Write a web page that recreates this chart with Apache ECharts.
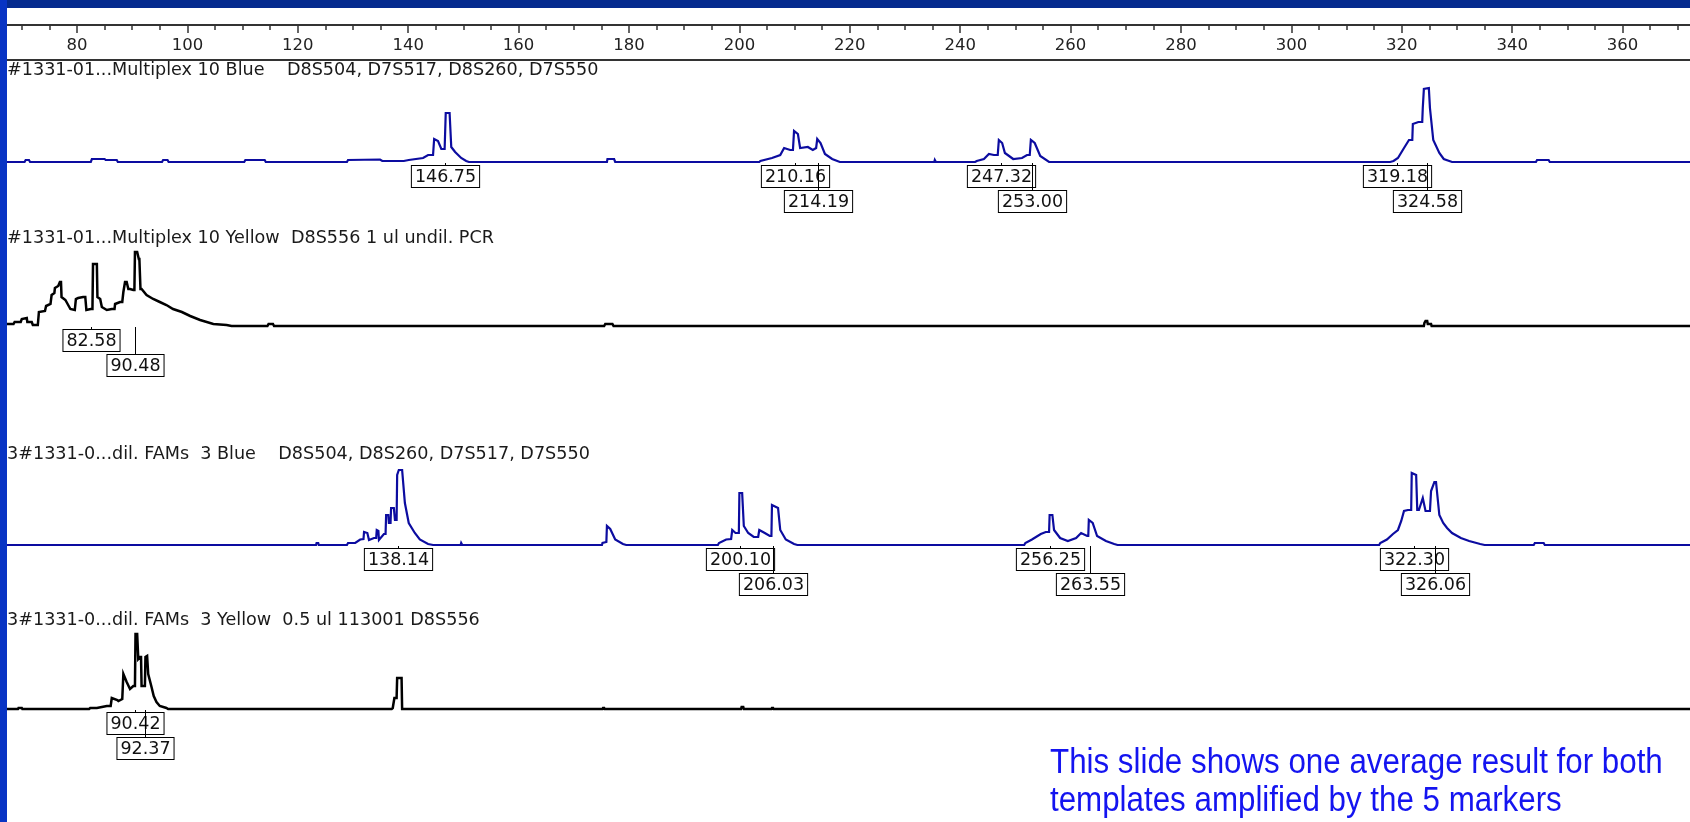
<!DOCTYPE html>
<html>
<head>
<meta charset="utf-8">
<script src="https://cdn.jsdelivr.net/npm/echarts@6/dist/echarts.min.js"></script>
<style>
html,body{margin:0;padding:0;background:#fff;}
#c{width:1690px;height:822px;}
</style>
</head>
<body>
<div id="c"></div>
<script>
// ---- data ----
const rulerMin = 60, rulerMax = 380, rulerStep = 20;

const panelTitles = [
  '#1331-01...Multiplex 10 Blue    D8S504, D7S517, D8S260, D7S550',
  '#1331-01...Multiplex 10 Yellow  D8S556 1 ul undil. PCR',
  '3#1331-0...dil. FAMs  3 Blue    D8S504, D8S260, D7S517, D7S550',
  '3#1331-0...dil. FAMs  3 Yellow  0.5 ul 113001 D8S556'
];

// trace 1: Multiplex 10 Blue  [size, height]
const trace1 = [[67,0],[70.5,0],[70.7,2],[71.3,2],[71.5,0],[82.5,0],[82.7,3],[85,3],[85.2,2],[87.2,2],[87.4,0],
 [95.4,0],[95.6,2],[96.4,2],[96.6,0],[110.3,0],[110.5,2],[114.0,2],[114.2,0],[128.9,0],[129.1,2],[134.9,2.5],[135.3,1],
 [139.2,1],[140.1,2],[142.7,4],[143.6,7],[144.5,7],[144.7,23],[145.4,21],[146.0,13],[146.6,13],[146.8,49],[147.5,49],
 [147.8,15],[148.5,10],[149.6,4],[150.5,1],[151.0,0],[176.0,0],[176.1,3],[177.3,3],[177.5,0],
 [203.6,0],[203.8,1],[205.9,4],[207.4,7],[208.1,14],[209.2,12],[209.7,12],[209.9,31],[210.6,28],[211.0,14],[212.4,15],
 [213.3,12],[213.9,14],[214.1,23],[214.7,19],[215.5,8],[216.8,3],[218.2,0],[235.3,0],[235.4,2],[235.6,0],
 [242.7,0],[243.0,1],[244.3,3],[245.2,8],[246.1,7],[246.8,7],[247.0,22],[247.6,19],[248.1,9],[249.6,3],[251.2,4],
 [252.1,7],[252.6,7],[252.8,22],[253.5,19],[254.5,6],[256.1,0],
 [317.9,0],[318.5,1],[319.3,4],[320.4,14],[321.3,22],[321.9,22],[322.0,38],[323.0,40],[323.7,40],[323.8,54],[324.0,73],
 [324.9,74],[325.1,54],[325.7,22],[326.8,9],[327.6,3],[329.1,0],[344.3,0],[344.5,2],[346.6,2],[346.8,0],[372.5,0]];

// trace 2: Multiplex 10 Yellow
const trace2 = [[67.0,2],[68.5,2],[68.7,4],[69.8,4],[70.0,7],[70.9,8],[71.0,4],[71.8,4],[72.0,1],[72.9,1],[73.1,14],
 [74.2,15],[74.4,20],[75.2,22],[75.4,31],[75.9,33],[76.0,38],[76.6,40],[76.9,44],[77.1,44],[77.2,29],[77.9,26],[78.1,24],
 [78.6,19],[78.8,17],[79.6,16],[79.8,27],[80.2,28],[81.1,29],[81.5,29],[81.7,16],[82.5,17],[82.8,17],[82.9,62],[83.6,62],
 [83.7,29],[84.2,27],[84.5,19],[85.4,16],[86.3,17],[86.8,17],[86.9,22],[87.8,24],[88.2,24],[88.4,34],[88.7,44],[89.0,44],
 [89.3,37],[89.6,37],[90.2,36],[90.4,36],[90.5,74],[90.9,74],[91.2,67],[91.3,67],[91.5,37],[91.7,37],[92.6,31],[93.8,27],
 [95.0,24],[96.2,21],[97.4,17],[99.0,14],[100.5,10],[102.3,6],[104.7,2],[107.1,1],[108,0],
 [114.5,0],[114.7,2],[115.5,2],[115.7,0],[175.5,0],[175.7,2],[177,2],[177.2,0],
 [324.0,0],[324.1,3],[324.3,5],[324.6,5],[324.7,2],[325.3,2],[325.4,0],[372.5,0]];

// trace 3: FAMs 3 Blue
const trace3 = [[67,0],[123.3,0],[123.4,2],[123.7,2],[123.8,0],[128.9,0],[129.1,2],[130.4,2],[131.3,5.5],[131.9,6],
 [132.0,13],[132.6,12],[132.9,5],[133.8,7],[134.2,7],[134.3,15],[134.6,14],[134.7,5],[135.6,11],[135.9,11],[136.0,30],
 [136.4,30],[136.5,22],[136.8,22],[136.9,37],[137.4,37],[137.6,25],[137.9,25],[138.0,70],[138.3,75],[138.9,75],[139.4,42],
 [140.1,22],[141.2,12],[142.1,5.5],[143.6,1],[144.5,0],[149.5,0],[149.6,2],[149.8,0],
 [175.1,0],[175.2,2],[175.9,3],[176.0,19],[176.6,16],[177.5,5.5],[178.9,1],[179.5,0],
 [196.1,0],[196.3,2],[197.6,5.5],[198.5,6],[198.7,15],[199.3,12],[199.9,12],[200.0,52],[200.5,52],[200.8,19],[201.6,12],
 [202.6,8],[203.4,8],[203.6,15],[204.6,12],[205.5,9],[205.8,9],[205.9,40],[207.0,37],[207.4,15],[208.4,5.5],[209.9,1],[210.5,0],
 [251.6,0],[251.8,2],[253.0,5.5],[254.6,11],[255.5,13],[256.1,13],[256.2,30],[256.7,30],[257.0,15],[258.1,7],[259.5,4],
 [261.0,7],[261.9,12],[263.0,9],[263.2,9],[263.3,25],[264.0,22],[264.8,9],[266.4,4],[267.9,1],[268.5,0],
 [315.9,0],[316.1,2],[317.3,5.5],[318.4,11],[319.3,15],[319.9,24],[320.4,34],[321.1,35],[321.7,35],[321.8,72],[322.6,70],
 [322.8,35],[323.1,35],[323.8,47],[324.3,34],[325.1,34],[325.3,54],[325.9,63],[326.2,63],[326.8,30],[327.5,22],[328.2,17],
 [329.1,12],[330.7,7],[332.2,4],[334.2,1],[335,0],[343.9,0],[344.1,2],[345.7,2],[345.9,0],[372.5,0]];

// trace 4: FAMs 3 Yellow
const trace4 = [[67,0],[69.3,0],[69.4,1],[70.0,1],[70.1,0],[82.2,0],[82.4,1],[83.6,1],[84.5,2],[85.4,3],[86.1,3],[86.3,11],
 [87.3,9],[87.5,8],[88.2,10],[88.4,35],[89.0,27],[89.6,20],[90.2,23],[90.5,23],[90.6,75],[90.9,75],[91.1,50],[91.4,52],
 [91.6,52],[91.7,23],[92.3,23],[92.4,52],[92.7,53],[92.9,35],[93.5,22],[93.9,13],[94.4,7],[95.0,3],[96.2,1],[96.5,0],
 [137.0,0],[137.2,1],[137.5,11],[137.9,11],[138.0,31],[138.8,31],[138.9,0],
 [175.2,0],[175.3,1],[175.5,1],[175.6,0],[200.3,0],[200.4,2],[200.7,2],[200.8,0],[205.8,0],[205.9,1],[206.1,1],[206.2,0],[372.5,0]];

// peak size labels and their stacking row
const peaks1 = [146.75, 210.16, 214.19, 247.32, 253.00, 319.18, 324.58];
const rows1  = [0, 0, 1, 0, 1, 0, 1];
const peaks2 = [82.58, 90.48];
const rows2  = [0, 1];
const peaks3 = [138.14, 200.10, 206.03, 256.25, 263.55, 322.30, 326.06];
const rows3  = [0, 0, 1, 0, 1, 0, 1];
const peaks4 = [90.42, 92.37];
const rows4  = [0, 1];

const noteLines = ['This slide shows one average result for both', 'templates amplified by the 5 markers'];

// ---- layout / style ----
const FONT = '"DejaVu Sans", sans-serif';
const BLUE = '#0c0ca0';
const baselines = [162, 326, 545, 709];
const titleCenters = [71, 239, 455, 621];
const gridLeft = -33.4, gridRight = -43;

const traces = [trace1, trace2, trace3, trace4];
const traceColors = [BLUE, '#000', BLUE, '#000'];
const traceWidths = [2.2, 2.5, 2.2, 2.5];
const peakSets = [[peaks1, rows1], [peaks2, rows2], [peaks3, rows3], [peaks4, rows4]];

function traceRenderer(color, width) {
  return function (params, api) {
    const n = params.dataInsideLength;
    if (params.dataIndexInside !== n - 1) return null;
    const pts = [];
    for (let k = 0; k < n; k++) pts.push(api.coord([api.value(0, k), api.value(1, k)]));
    return {type: 'polyline', shape: {points: pts},
            style: {stroke: color, lineWidth: width, fill: null, lineJoin: 'miter'}};
  };
}

function labelRenderer(params, api) {
  const v = api.value(0), row = api.value(1);
  const p = api.coord([v, 0]);
  const px = Math.round(p[0]) + 0.5;
  const top = Math.round(p[1]) + 4 + row * 25;
  return {type: 'group', children: [
    {type: 'line', shape: {x1: px, y1: p[1] + 1, x2: px, y2: top}, style: {stroke: '#000', lineWidth: 1}},
    {type: 'text', x: px, y: top, style: {
      text: v.toFixed(2), align: 'center', verticalAlign: 'top',
      font: '17.5px ' + FONT, fill: '#111', backgroundColor: '#fff',
      borderColor: '#000', borderWidth: 1, padding: [2, 3, 1, 3]}}
  ]};
}

const grids = [{left: gridLeft, right: gridRight, top: 25, height: 35, outerBoundsMode: 'none'}];
const xAxes = [
  {gridIndex: 0, type: 'value', position: 'top', min: rulerMin, max: rulerMax, interval: rulerStep,
   axisLine: {onZero: false, lineStyle: {color: '#333', width: 2}},
   axisTick: {inside: true, length: 8, lineStyle: {color: '#333', width: 1.5}},
   minorTick: {show: true, splitNumber: 4, length: 5, lineStyle: {color: '#333', width: 1.5}},
   axisLabel: {inside: true, margin: 12, color: '#222', fontSize: 16.5, fontFamily: FONT},
   splitLine: {show: false}},
  {gridIndex: 0, type: 'value', position: 'bottom', min: rulerMin, max: rulerMax,
   axisLine: {onZero: false, lineStyle: {color: '#333', width: 2}},
   axisTick: {show: false}, axisLabel: {show: false}, splitLine: {show: false}}
];
const yAxes = [{gridIndex: 0, show: false, min: 0, max: 1}];
const series = [];

traces.forEach((tr, i) => {
  const gi = i + 1;
  grids.push({left: gridLeft, right: gridRight, top: baselines[i] - 100, height: 110, outerBoundsMode: 'none'});
  xAxes.push({gridIndex: gi, type: 'value', show: false, min: rulerMin, max: rulerMax});
  yAxes.push({gridIndex: gi, type: 'value', show: false, min: -10, max: 100});
  series.push({
    type: 'custom', xAxisIndex: i + 2, yAxisIndex: gi, clip: false, z: 2,
    data: tr, renderItem: traceRenderer(traceColors[i], traceWidths[i])
  });
  const [pk, rw] = peakSets[i];
  series.push({
    type: 'custom', xAxisIndex: i + 2, yAxisIndex: gi, clip: false, z: 3,
    data: pk.map((v, k) => [v, rw[k]]),
    renderItem: labelRenderer
  });
});

const titles = panelTitles.map((t, i) => ({
  text: t, left: 7, top: titleCenters[i] - 10, padding: 0,
  textStyle: {fontFamily: FONT, fontSize: 17.6, fontWeight: 'normal', color: '#1a1a1a'}
}));

const chart = echarts.init(document.getElementById('c'), null, {renderer: 'canvas'});
chart.setOption({
  animation: false,
  backgroundColor: '#fff',
  title: titles,
  grid: grids,
  xAxis: xAxes,
  yAxis: yAxes,
  series: series,
  graphic: [
    {type: 'rect', z: 100, shape: {x: 0, y: 0, width: 1690, height: 8}, style: {fill: '#052a8e'}},
    {type: 'rect', z: 100, shape: {x: 0, y: 0, width: 7, height: 822}, style: {fill: '#0834c4'}},
    {type: 'text', z: 100, x: 1050, y: 744, scaleX: 0.9, style: {
      text: noteLines.join('\n'), font: '34.8px "Liberation Sans", Arial, sans-serif',
      fill: '#1414f0', lineHeight: 38}}
  ]
});
</script>
</body>
</html>
